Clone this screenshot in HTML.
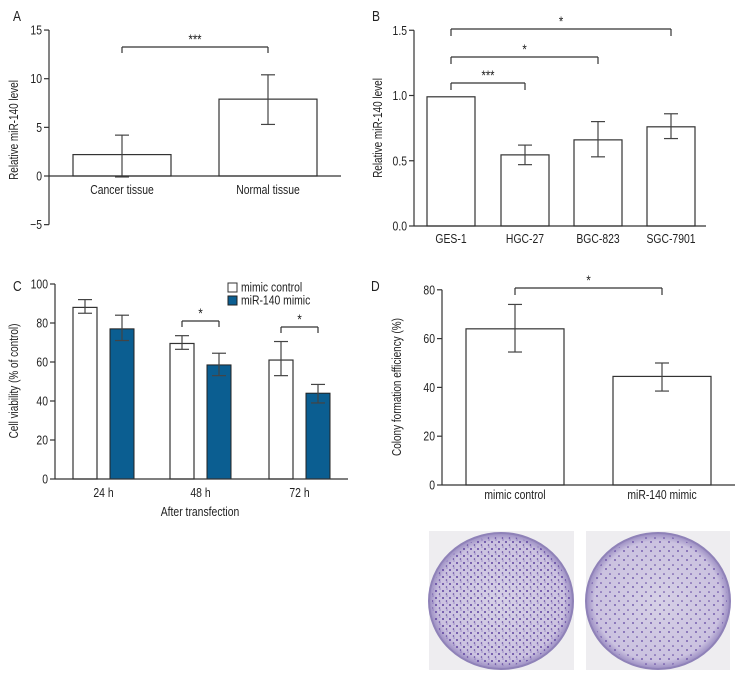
<!DOCTYPE html>
<html><head><meta charset="utf-8"><style>
html,body{margin:0;padding:0;background:#fff}
svg{display:block;font-family:"Liberation Sans Narrow","Liberation Sans",sans-serif}
text{fill:#222}
</style></head><body>
<svg id="fig" width="756" height="696" viewBox="0 0 756 696" xmlns="http://www.w3.org/2000/svg">
<defs>
<radialGradient id="dish" cx="50%" cy="50%" r="50%">
<stop offset="0" stop-color="#d6d0e6"/><stop offset="0.88" stop-color="#cbc2e0"/><stop offset="1" stop-color="#9a8cc2"/>
</radialGradient>
<pattern id="dotsA" width="7" height="7" patternUnits="userSpaceOnUse">
<circle cx="2" cy="3" r="1" fill="#5e43a0"/><circle cx="5.5" cy="6" r="0.8" fill="#5b3f9c"/><circle cx="6" cy="1" r="0.6" fill="#7a63b5"/>
</pattern>
<pattern id="dotsB" width="9" height="9" patternUnits="userSpaceOnUse">
<circle cx="3" cy="2" r="0.9" fill="#5e43a0"/><circle cx="7" cy="7" r="0.8" fill="#5b3f9c"/>
</pattern>
</defs>
<g id="g"></g>
<g>
<rect x="429" y="531" width="145" height="139" fill="#eeedf0"/>
<ellipse cx="501" cy="601" rx="72" ry="68" fill="url(#dish)" stroke="#8f82b8" stroke-width="2"/>
<ellipse cx="501" cy="601" rx="69" ry="65" fill="url(#dotsA)"/>
</g>
<g>
<rect x="586" y="531" width="144" height="139" fill="#eeedf0"/>
<ellipse cx="658" cy="601" rx="72" ry="68" fill="url(#dish)" stroke="#8f82b8" stroke-width="2"/>
<ellipse cx="658" cy="601" rx="69" ry="65" fill="url(#dotsB)"/>
</g>
</svg>
<script>
// Panel A
const aCats=["Cancer tissue","Normal tissue"];
const aVals=[2.2,7.9];
const aLo=[-0.1,5.3];
const aHi=[4.2,10.4];
const aTicks=[-5,0,5,10,15];
// Panel B
const bCats=["GES-1","HGC-27","BGC-823","SGC-7901"];
const bVals=[0.99,0.545,0.66,0.76];
const bLo=[0.99,0.47,0.53,0.67];
const bHi=[0.99,0.62,0.80,0.86];
const bTicks=[0.0,0.5,1.0,1.5];
// Panel C
const cCats=["24 h","48 h","72 h"];
const cCtrl=[88,69.5,61];
const cCtrlLo=[85,66.5,53];
const cCtrlHi=[92,73.5,70.5];
const cMimic=[77,58.5,44];
const cMimicLo=[71,53,39];
const cMimicHi=[84,64.5,48.5];
const cTicks=[0,20,40,60,80,100];
// Panel D
const dCats=["mimic control","miR-140 mimic"];
const dVals=[64,44.5];
const dLo=[54.5,38.5];
const dHi=[74,50];
const dTicks=[0,20,40,60,80];

const NS="http://www.w3.org/2000/svg";
const G=document.getElementById('g');
function mk(tag,attrs,parent,txt){const e=document.createElementNS(NS,tag);for(const k in attrs)e.setAttribute(k,attrs[k]);if(txt!==undefined)e.textContent=txt;(parent||G).appendChild(e);return e;}
// condensed text
function tx(x,y,s,size,anchor,p,rot){
 const e=mk('text',{x:0,y:0,'text-anchor':anchor||'start','font-size':size},p,s);
 e.setAttribute('transform',`translate(${x} ${y})${rot?' rotate(-90)':''} scale(0.8 1)`);
 return e;
}
function line(x1,y1,x2,y2,p,c){return mk('line',{x1,y1,x2,y2,stroke:c||'#333','stroke-width':1.2},p);}
function errbar(x,ylo,yhi,p){line(x,ylo,x,yhi,p,'#444');line(x-7,ylo,x+7,ylo,p,'#444');line(x-7,yhi,x+7,yhi,p,'#444');}
function bracket(x1,x2,y,tick,label,p){line(x1,y,x2,y,p);line(x1,y,x1,y+tick,p);line(x2,y,x2,y+tick,p);
 const t=tx((x1+x2)/2,y-3,label,14,'middle',p);
 
 }
function axis(p,ax,y0fn,ticks,fmt,title,titleX,titleY){
 const ys=ticks.map(y0fn);
 line(ax,Math.min(...ys),ax,Math.max(...ys),p);
 ticks.forEach(t=>{const y=y0fn(t);line(ax-5,y,ax,y,p);
  const tl=tx(ax-7,y+4.5,fmt(t),13,'end',p);
  
  });
 const tt=tx(titleX,titleY,title,12.5,'middle',p,true);
 
 
}
function panelLabel(s,x,y,p){const t=tx(x,y,s,15,'start',p);
 
 }

// ---- Panel A
(function(){
 const p=mk('g',{});
 const y=v=>176-v*9.73; const ax=49;
 panelLabel('A',13,21,p);
 axis(p,ax,y,aTicks,t=>t<0?'\u2212'+(-t):String(t),'Relative miR-140 level',18,130);
 const xs=[73,219], w=98;
 aVals.forEach((v,i)=>{const r=mk('rect',{x:xs[i],y:y(v),width:w,height:y(0)-y(v),fill:'#fff',stroke:'#333','stroke-width':1.2},p);
  
  
  errbar(xs[i]+w/2,y(aLo[i]),y(aHi[i]),p);
  const tl=tx(xs[i]+w/2,194,aCats[i],13,'middle',p);
  });
 line(ax,y(0),341,y(0),p);
 bracket(xs[0]+w/2,xs[1]+w/2,47,6,'***',p);
})();

// ---- Panel B
(function(){
 const p=mk('g',{});
 const y=v=>226-v*130.5; const ax=414;
 panelLabel('B',372,21,p);
 axis(p,ax,y,bTicks,t=>t.toFixed(1),'Relative miR-140 level',382,128);
 const xs=[427,501,574,647], w=48;
 bVals.forEach((v,i)=>{const r=mk('rect',{x:xs[i],y:y(v),width:w,height:y(0)-y(v),fill:'#fff',stroke:'#333','stroke-width':1.2},p);
  
  
  if(i>0)errbar(xs[i]+w/2,y(bLo[i]),y(bHi[i]),p);
  const tl=tx(xs[i]+w/2,243,bCats[i],13,'middle',p);
  });
 line(ax,y(0),706,y(0),p);
 const c0=xs[0]+w/2;
 bracket(c0,xs[1]+w/2,83,7,'***',p);
 bracket(c0,xs[2]+w/2,57,7,'*',p);
 bracket(c0,xs[3]+w/2,29,7,'*',p);
})();

// ---- Panel C
(function(){
 const p=mk('g',{});
 const y=v=>479-v*1.95; const ax=55;
 panelLabel('C',13,291,p);
 axis(p,ax,y,cTicks,t=>String(t),'Cell viability (% of control)',18,381);
 const gx=[73,170,269], w=24, off=37;
 cCats.forEach((c,i)=>{
  const r1=mk('rect',{x:gx[i],y:y(cCtrl[i]),width:w,height:y(0)-y(cCtrl[i]),fill:'#fff',stroke:'#333','stroke-width':1.2},p);
  
  
  const r2=mk('rect',{x:gx[i]+off,y:y(cMimic[i]),width:w,height:y(0)-y(cMimic[i]),fill:'#0b5e91',stroke:'#222','stroke-width':1},p);
  
  
  errbar(gx[i]+w/2,y(cCtrlLo[i]),y(cCtrlHi[i]),p);
  errbar(gx[i]+off+w/2,y(cMimicLo[i]),y(cMimicHi[i]),p);
  const tl=tx(gx[i]+(off+w)/2,497,c,13,'middle',p);
  
  if(i>0)bracket(gx[i]+w/2,gx[i]+off+w/2,i==1?321:327,6,'*',p);
 });
 line(ax,y(0),348,y(0),p);
 const xt=tx(200,516,'After transfection',13,'middle',p);
 
 const lg=mk('g',{},p);
 mk('rect',{x:228,y:283,width:9,height:9,fill:'#fff',stroke:'#333'},lg);
 tx(241,291.5,'mimic control',13,'start',lg);
 mk('rect',{x:228,y:296,width:9,height:9,fill:'#0b5e91',stroke:'#222'},lg);
 tx(241,304.5,'miR-140 mimic',13,'start',lg);
})();

// ---- Panel D
(function(){
 const p=mk('g',{});
 const y=v=>485-v*2.44; const ax=442;
 panelLabel('D',371,291,p);
 axis(p,ax,y,dTicks,t=>String(t),'Colony formation efficiency (%)',401,387);
 const xs=[466,613], w=98;
 dVals.forEach((v,i)=>{const r=mk('rect',{x:xs[i],y:y(v),width:w,height:y(0)-y(v),fill:'#fff',stroke:'#333','stroke-width':1.2},p);
  
  
  errbar(xs[i]+w/2,y(dLo[i]),y(dHi[i]),p);
  const tl=tx(xs[i]+w/2,499,dCats[i],13,'middle',p);
  });
 line(ax,y(0),735,y(0),p);
 bracket(xs[0]+w/2,xs[1]+w/2,288,7,'*',p);
})();
</script>
</body></html>
